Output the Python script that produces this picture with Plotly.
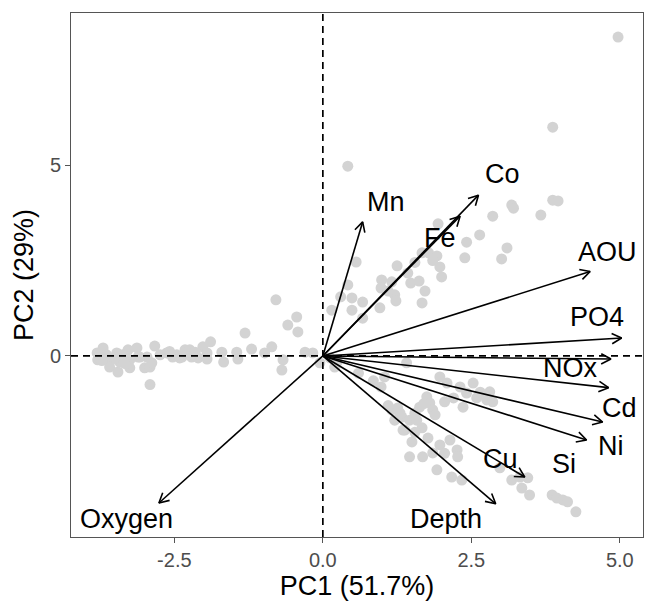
import math
import plotly.graph_objects as go

# ---------------- data ----------------
# sample scores (PC1, PC2)
band_pc1 = [-3.80, -3.79, -3.70, -3.64, -3.59, -3.59, -3.47, -3.45, -3.42, -3.28, -3.25, -3.25,
            -3.13, -3.11, -3.00, -2.96, -2.91, -2.91, -2.88, -2.83, -2.74, -2.63, -2.53, -2.46,
            -2.41, -2.32, -2.24, -2.21, -2.10, -2.02, -1.95, -1.95, -1.89, -1.70, -1.67, -1.45,
            -1.43, -1.31, -1.20, -0.98, -0.86, -0.67, -0.69, -0.79, -0.59, -0.44, -0.42, -0.30,
            -0.17, -0.05, -3.08, -3.50, -3.37, -2.37, -3.72, -3.33, -2.58, -2.15]
band_pc2 = [0.08, -0.10, 0.21, 0.03, -0.16, -0.29, 0.08, -0.42, -0.16, 0.16, -0.31, -0.10,
            0.21, -0.03, -0.31, -0.03, -0.29, -0.75, -0.18, 0.26, 0.03, 0.08, -0.03, 0.03,
            -0.05, 0.16, 0.16, -0.03, -0.05, 0.24, 0.08, -0.08, 0.37, 0.10, -0.16, 0.10,
            -0.08, 0.60, 0.18, 0.08, 0.24, -0.10, -0.37, 1.47, 0.81, 1.02, 0.63, 0.10,
            0.08, -0.18, -0.03, -0.05, 0.03, -0.03, -0.12, -0.20, 0.12, 0.10]

upper_pc1 = [0.42, 0.56, 0.42, 0.49, 0.15, 0.49, 0.67, 0.67, 0.96, 0.99, 0.98, 1.16, 1.21,
             1.23, 1.25, 1.43, 1.48, 1.62, 1.67, 1.72, 1.67, 1.78, 1.92, 1.94, 1.97, 2.00,
             2.39, 2.42, 2.64, 2.86, 3.18, 3.21, 3.67, 3.87, 3.96, 3.10, 3.01, 3.87, 4.97, 0.12,
             0.30, 1.10, 1.55, 1.85]
upper_pc2 = [4.97, 2.46, 1.86, 1.52, 1.20, 1.20, 1.41, 0.99, 1.26, 1.99, 1.78, 1.94, 1.60,
             1.44, 2.36, 2.17, 1.91, 1.96, 1.39, 1.70, 2.70, 2.70, 2.62, 3.46, 2.33, 2.07,
             2.57, 2.98, 3.17, 3.66, 3.95, 3.87, 3.69, 4.08, 4.06, 2.83, 2.54, 5.99, 8.35, -0.05,
             1.55, 1.70, 2.45, 2.50]

lower_pc1 = [0.20, 0.24, 0.98, 1.04, 1.41, 1.16, 1.26, 1.33, 1.38, 1.46, 1.58, 1.63, 1.67,
             1.50, 1.75, 1.80, 1.85, 1.97, 2.05, 2.09, 2.31, 2.42, 2.36, 2.53, 2.59, 2.76,
             2.81, 2.86, 1.77, 1.68, 1.85, 1.97, 2.14, 2.26, 2.27, 1.46, 1.92, 2.17, 2.34,
             1.89, 2.98, 3.18, 3.32, 3.45, 3.35, 3.48, 3.86, 3.94, 4.04, 4.12, 4.26, 1.21, 1.35,
             1.10, 1.30, 1.55, 1.70, 2.20, 2.65, 1.55, 2.05, 0.60, 0.85]
lower_pc2 = [-0.29, -0.16, -0.81, -0.55, -0.18, -1.41, -1.36, -1.60, -1.94, -1.68, -1.68, -1.34, -1.88,
             -2.25, -1.07, -1.23, -1.41, -0.55, -1.20, -0.71, -0.81, -0.97, -1.34, -0.71, -1.10, -1.15,
             -0.94, -1.20, -2.15, -2.64, -2.54, -2.33, -2.20, -2.46, -2.64, -2.64, -2.98, -3.17, -3.25,
             -1.54, -2.93, -3.25, -3.17, -3.19, -3.46, -3.64, -3.64, -3.72, -3.77, -3.82, -4.08, -1.68, -1.94,
             -1.30, -1.50, -1.50, -1.25, -1.10, -0.95, -2.00, -2.55, -0.45, -0.65]

# variable loadings (arrow tips)
variables = ["Mn", "Fe", "Co", "AOU", "PO4", "NOx", "Cd", "Ni", "Si", "Cu", "Depth", "Oxygen"]
load_pc1 = [0.67, 2.31, 2.62, 4.50, 5.03, 4.85, 4.81, 4.71, 4.44, 3.40, 2.91, -2.76]
load_pc2 = [3.51, 3.66, 4.21, 2.21, 0.47, -0.08, -0.83, -1.73, -2.20, -3.17, -3.87, -3.85]

# label positions
label_pc1 = [1.06, 1.97, 3.03, 4.80, 4.61, 4.17, 5.00, 4.85, 4.06, 2.99, 2.08, -3.30]
label_pc2 = [4.03, 3.09, 4.76, 2.73, 1.02, -0.31, -1.36, -2.36, -2.82, -2.70, -4.27, -4.27]

pc1 = band_pc1 + upper_pc1 + lower_pc1
pc2 = band_pc2 + upper_pc2 + lower_pc2

# ---------------- layout constants ----------------
W, H = 647, 602
ML, MR, MT, MB = 71, 4, 13, 65
XR = [-4.24, 5.39]
YR = [-4.74, 8.98]
sx = (W - ML - MR) / (XR[1] - XR[0])
sy = (H - MT - MB) / (YR[1] - YR[0])

FONT = "Liberation Sans, Arial, sans-serif"

fig = go.Figure()
fig.add_trace(go.Scatter(
    x=pc1, y=pc2, mode="markers",
    marker=dict(size=11, color="#D3D3D3", line=dict(width=0)),
    hoverinfo="skip", showlegend=False))

# arrows with open V heads
HEAD_LEN, HEAD_ANG = 11, math.radians(28)
for name, x, y in zip(variables, load_pc1, load_pc2):
    ang = math.atan2(y * sy, x * sx)
    wings = []
    for s in (1, -1):
        a = ang + math.pi + s * HEAD_ANG
        wings.append((x + HEAD_LEN * math.cos(a) / sx, y + HEAD_LEN * math.sin(a) / sy))
    fig.add_trace(go.Scatter(
        x=[0, x, None, wings[0][0], x, wings[1][0]],
        y=[0, y, None, wings[0][1], y, wings[1][1]],
        mode="lines", line=dict(color="black", width=1.6),
        hoverinfo="skip", showlegend=False))

for name, lx, ly in zip(variables, label_pc1, label_pc2):
    fig.add_annotation(x=lx, y=ly, text=name, showarrow=False,
                       xanchor="center", yanchor="middle",
                       font=dict(family=FONT, size=27, color="black"))

# dashed reference lines
fig.add_shape(type="line", xref="x", yref="paper", x0=0, x1=0, y0=0, y1=1,
              line=dict(color="black", width=1.7, dash="7px,5px"), layer="above")
fig.add_shape(type="line", xref="paper", yref="y", x0=0, x1=1, y0=0, y1=0,
              line=dict(color="black", width=1.7, dash="7px,5px"), layer="above")

axis_common = dict(showgrid=False, zeroline=False, showline=True, mirror=True,
                   linecolor="#555555", linewidth=1, ticks="outside", ticklen=5,
                   tickcolor="#555555", tickwidth=1, automargin=False,
                   tickfont=dict(family=FONT, size=20, color="#4D4D4D"))

fig.update_layout(
    width=W, height=H,
    margin=dict(l=ML, r=MR, t=MT, b=MB, autoexpand=False),
    paper_bgcolor="white", plot_bgcolor="white",
    xaxis=dict(range=XR, tickvals=[-2.5, 0, 2.5, 5.0], ticktext=["-2.5", "0.0", "2.5", "5.0"],
               title=dict(text="PC1 (51.7%)", standoff=6,
                          font=dict(family=FONT, size=27, color="black")),
               **axis_common),
    yaxis=dict(range=YR, tickvals=[0, 5], ticktext=["0", "5"],
               title=dict(text="PC2 (29%)", standoff=8,
                          font=dict(family=FONT, size=27, color="black")),
               **axis_common),
)

fig.write_html("out.html", config={"displayModeBar": False},
               post_script="document.body.style.margin='0px';document.body.style.overflow='hidden';")
